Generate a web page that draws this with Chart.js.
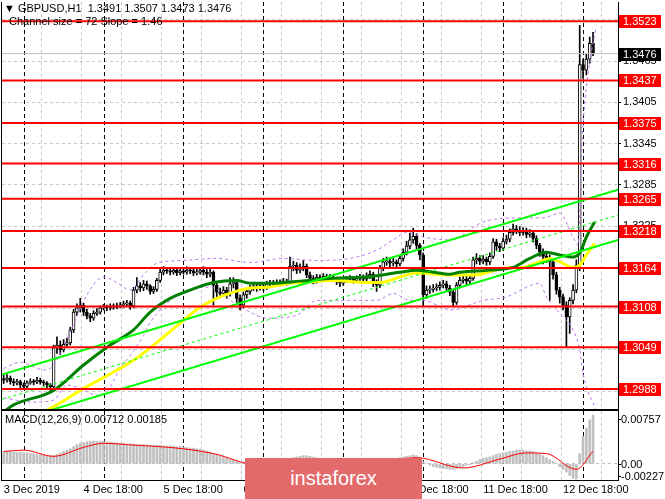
<!DOCTYPE html>
<html>
<head>
<meta charset="utf-8">
<title>GBPUSD H1</title>
<script src="https://cdn.jsdelivr.net/npm/chart.js@4.4.1/dist/chart.umd.min.js"></script>
<style>
  body { margin: 0; background: #fff; }
  #wrap { position: relative; width: 665px; height: 499px; overflow: hidden; font-family: "Liberation Sans", Arial, sans-serif; }
  canvas { position: absolute; left: 0; }
  #priceChart { top: 0; }
  #macdChart { top: 409px; }
  .note { position: absolute; font-size: 11px; line-height: 13px; color: #000; white-space: pre; }
  #brand { position: absolute; left: 245px; top: 458px; width: 177px; height: 41px; background: #e26a6a; color: #fff; font-size: 20px; line-height: 41px; text-align: center; }
</style>
</head>
<body>
<div id="wrap">
  <canvas id="priceChart" width="665" height="411"></canvas>
  <canvas id="macdChart" width="665" height="90"></canvas>
  <div class="note" style="left:4px;top:2px">▼ GBPUSD,H1  1.3491 1.3507 1.3473 1.3476</div>
  <div class="note" style="left:9px;top:15px">Channel size = 72 Slope = 1.46</div>
  <div class="note" style="left:5px;top:413px">MACD(12,26,9) 0.00712 0.00185</div>
  <div id="brand">instaforex</div>
</div>
<script>
// hourly candles, 3 Dec 18:00 -> 13 Dec 03:00 (index = bar number)
const opens = [
  1.3003,1.3001,1.3004,1.2999,1.2997,1.2999,1.2994,1.2992,1.2997,1.2999,
  1.2998,1.3001,1.2998,1.2997,1.2994,1.2991,1.3048,1.3052,1.3045,1.3053,
  1.3055,1.3074,1.3100,1.3106,1.3110,1.3100,1.3094,1.3091,1.3098,1.3100,
  1.3106,1.3107,1.3106,1.3109,1.3107,1.3109,1.3110,1.3112,1.3113,1.3109,
  1.3132,1.3138,1.3135,1.3141,1.3138,1.3130,1.3133,1.3146,1.3158,1.3161,
  1.3160,1.3158,1.3161,1.3157,1.3160,1.3158,1.3161,1.3160,1.3157,1.3158,
  1.3161,1.3158,1.3155,1.3158,1.3139,1.3129,1.3127,1.3132,1.3126,1.3141,
  1.3143,1.3120,1.3110,1.3125,1.3130,1.3135,1.3138,1.3135,1.3138,1.3136,
  1.3141,1.3142,1.3141,1.3143,1.3142,1.3145,1.3143,1.3167,1.3168,1.3161,
  1.3164,1.3167,1.3154,1.3149,1.3146,1.3151,1.3148,1.3152,1.3149,1.3151,
  1.3148,1.3145,1.3142,1.3146,1.3148,1.3149,1.3146,1.3149,1.3151,1.3148,
  1.3152,1.3155,1.3143,1.3139,1.3164,1.3173,1.3174,1.3171,1.3173,1.3170,
  1.3178,1.3187,1.3196,1.3205,1.3210,1.3197,1.3183,1.3125,1.3132,1.3133,
  1.3135,1.3136,1.3139,1.3141,1.3135,1.3129,1.3114,1.3139,1.3146,1.3148,
  1.3145,1.3149,1.3176,1.3178,1.3174,1.3177,1.3173,1.3181,1.3202,1.3196,
  1.3193,1.3203,1.3206,1.3216,1.3221,1.3219,1.3216,1.3218,1.3213,1.3215,
  1.3207,1.3197,1.3187,1.3181,1.3178,1.3173,1.3154,1.3132,1.3122,1.3110,
  1.3093,1.3117,1.3132,1.3168,1.3460,1.3452,1.3468,1.3491
];
const highs = [
  1.3008,1.3009,1.3007,1.3003,1.3002,1.3001,1.2997,1.3000,1.3003,1.3002,
  1.3005,1.3004,1.3001,1.2999,1.2996,1.3052,1.3064,1.3058,1.3060,1.3062,
  1.3078,1.3104,1.3112,1.3120,1.3113,1.3104,1.3098,1.3102,1.3105,1.3109,
  1.3111,1.3110,1.3112,1.3112,1.3113,1.3114,1.3116,1.3117,1.3116,1.3136,
  1.3150,1.3143,1.3146,1.3145,1.3140,1.3137,1.3149,1.3162,1.3166,1.3165,
  1.3163,1.3165,1.3164,1.3163,1.3164,1.3166,1.3164,1.3163,1.3162,1.3165,
  1.3166,1.3162,1.3163,1.3160,1.3142,1.3135,1.3137,1.3136,1.3150,1.3150,
  1.3146,1.3125,1.3129,1.3134,1.3139,1.3142,1.3141,1.3142,1.3141,1.3145,
  1.3146,1.3146,1.3147,1.3147,1.3149,1.3148,1.3180,1.3174,1.3172,1.3170,
  1.3175,1.3170,1.3158,1.3153,1.3155,1.3154,1.3156,1.3155,1.3155,1.3154,
  1.3151,1.3149,1.3150,1.3152,1.3153,1.3152,1.3153,1.3155,1.3154,1.3157,
  1.3160,1.3158,1.3147,1.3168,1.3178,1.3180,1.3178,1.3178,1.3176,1.3183,
  1.3192,1.3203,1.3215,1.3222,1.3214,1.3200,1.3186,1.3138,1.3138,1.3140,
  1.3141,1.3144,1.3146,1.3145,1.3139,1.3132,1.3143,1.3151,1.3153,1.3152,
  1.3154,1.3180,1.3185,1.3182,1.3182,1.3180,1.3186,1.3207,1.3206,1.3200,
  1.3208,1.3212,1.3221,1.3228,1.3226,1.3224,1.3223,1.3222,1.3220,1.3219,
  1.3211,1.3200,1.3192,1.3186,1.3183,1.3177,1.3158,1.3136,1.3126,1.3115,
  1.3121,1.3140,1.3176,1.3517,1.3468,1.3475,1.3500,1.3507
];
const lows = [
  1.2996,1.2998,1.2995,1.2993,1.2994,1.2990,1.2988,1.2990,1.2995,1.2994,
  1.2996,1.2995,1.2993,1.2990,1.2986,1.2989,1.3040,1.3038,1.3042,1.3048,
  1.3052,1.3070,1.3095,1.3100,1.3095,1.3090,1.3086,1.3088,1.3095,1.3097,
  1.3103,1.3102,1.3103,1.3104,1.3105,1.3106,1.3107,1.3109,1.3104,1.3106,
  1.3128,1.3130,1.3131,1.3133,1.3126,1.3127,1.3130,1.3143,1.3154,1.3156,
  1.3154,1.3155,1.3153,1.3154,1.3155,1.3155,1.3156,1.3153,1.3154,1.3155,
  1.3154,1.3150,1.3151,1.3110,1.3122,1.3121,1.3123,1.3120,1.3123,1.3135,
  1.3114,1.3103,1.3106,1.3120,1.3126,1.3131,1.3130,1.3132,1.3131,1.3133,
  1.3137,1.3137,1.3138,1.3138,1.3139,1.3139,1.3141,1.3160,1.3156,1.3157,
  1.3160,1.3150,1.3144,1.3141,1.3142,1.3144,1.3144,1.3145,1.3146,1.3144,
  1.3140,1.3137,1.3139,1.3143,1.3144,1.3142,1.3143,1.3146,1.3144,1.3145,
  1.3149,1.3137,1.3130,1.3136,1.3160,1.3168,1.3166,1.3167,1.3165,1.3167,
  1.3174,1.3183,1.3192,1.3200,1.3192,1.3176,1.3108,1.3120,1.3127,1.3129,
  1.3131,1.3132,1.3135,1.3130,1.3124,1.3108,1.3111,1.3135,1.3142,1.3140,
  1.3141,1.3146,1.3170,1.3169,1.3170,1.3168,1.3169,1.3178,1.3190,1.3188,
  1.3190,1.3199,1.3202,1.3212,1.3214,1.3211,1.3212,1.3208,1.3209,1.3202,
  1.3192,1.3181,1.3170,1.3172,1.3117,1.3148,1.3126,1.3113,1.3103,1.3049,
  1.3069,1.3112,1.3128,1.3160,1.3440,1.3445,1.3462,1.3473
];
const closes = [
  1.3001,1.3004,1.2999,1.2997,1.2999,1.2994,1.2992,1.2997,1.2999,1.2998,
  1.3001,1.2998,1.2997,1.2994,1.2991,1.3048,1.3052,1.3045,1.3053,1.3055,
  1.3074,1.3100,1.3106,1.3110,1.3100,1.3094,1.3091,1.3098,1.3100,1.3106,
  1.3107,1.3106,1.3109,1.3107,1.3109,1.3110,1.3112,1.3113,1.3109,1.3132,
  1.3138,1.3135,1.3141,1.3138,1.3130,1.3133,1.3146,1.3158,1.3161,1.3160,
  1.3158,1.3161,1.3157,1.3160,1.3158,1.3161,1.3160,1.3157,1.3158,1.3161,
  1.3158,1.3155,1.3158,1.3139,1.3129,1.3127,1.3132,1.3126,1.3141,1.3143,
  1.3120,1.3110,1.3125,1.3130,1.3135,1.3138,1.3135,1.3138,1.3136,1.3141,
  1.3142,1.3141,1.3143,1.3142,1.3145,1.3143,1.3167,1.3168,1.3161,1.3164,
  1.3167,1.3154,1.3149,1.3146,1.3151,1.3148,1.3152,1.3149,1.3151,1.3148,
  1.3145,1.3142,1.3146,1.3148,1.3149,1.3146,1.3149,1.3151,1.3148,1.3152,
  1.3155,1.3143,1.3139,1.3164,1.3173,1.3174,1.3171,1.3173,1.3170,1.3178,
  1.3187,1.3196,1.3205,1.3210,1.3197,1.3183,1.3125,1.3132,1.3133,1.3135,
  1.3136,1.3139,1.3141,1.3135,1.3129,1.3114,1.3139,1.3146,1.3148,1.3145,
  1.3149,1.3176,1.3178,1.3174,1.3177,1.3173,1.3181,1.3202,1.3196,1.3193,
  1.3203,1.3206,1.3216,1.3221,1.3219,1.3216,1.3218,1.3213,1.3215,1.3207,
  1.3197,1.3187,1.3181,1.3178,1.3173,1.3154,1.3132,1.3122,1.3110,1.3093,
  1.3117,1.3132,1.3168,1.3460,1.3452,1.3468,1.3491,1.3476
];

// indicators as [bar, value]
const maGreen = [[0,1.2955],[3,1.2965],[15,1.2986],[24,1.3023],[32,1.3052],[39,1.3074],[44,1.3100],[50,1.3120],
  [56,1.3132],[63,1.3143],[70,1.3146],[74,1.3142],[80,1.3142],[89,1.3145],[99,1.3149],[109,1.3151],[119,1.3158],
  [124,1.3161],[129,1.3158],[134,1.3155],[137,1.3158],[146,1.3161],[153,1.3165],[158,1.3178],[163,1.3187],
  [167,1.3183],[171,1.3180],[173,1.3186],[175,1.3209],[177.5,1.3231]];
const maYellow = [[10,1.2950],[16,1.2965],[24,1.2989],[32,1.3010],[39,1.3030],[44,1.3048],[54,1.3088],[59,1.3107],
  [64,1.3120],[69,1.3129],[74,1.3135],[79,1.3136],[86,1.3142],[89,1.3143],[99,1.3146],[109,1.3143],[113,1.3143],
  [119,1.3151],[124,1.3157],[134,1.3154],[141,1.3154],[151,1.3164],[156,1.3165],[161,1.3173],[164,1.3178],
  [167,1.3173],[171,1.3165],[173,1.3168],[175.5,1.3187],[177.5,1.3200]];
const bandUpper = [[0,1.3018],[5,1.3027],[12,1.3016],[15,1.3023],[20,1.3071],[25,1.3125],[30,1.3151],[34,1.3143],
  [38,1.3132],[42,1.3154],[46,1.3171],[54,1.3175],[64,1.3178],[74,1.3172],[84,1.3178],[94,1.3175],[104,1.3178],
  [112,1.3190],[117,1.3205],[121,1.3216],[126,1.3209],[134,1.3205],[144,1.3231],[154,1.3237],[162,1.3237],
  [167,1.3244],[171,1.3209],[172.5,1.3197],[173.7,1.3350],[174.6,1.3408],[176.1,1.3466],[177.9,1.3513]];
const bandLower = [[0,1.2975],[9,1.2969],[15,1.2972],[19,1.2994],[23,1.2989],[28,1.2979],[31,1.2984],[35,1.3018],
  [38,1.3037],[42,1.3066],[44,1.3085],[54,1.3129],[62,1.3136],[69,1.3114],[74,1.3100],[79,1.3091],[86,1.3093],
  [89,1.3098],[94,1.3117],[104,1.3117],[112,1.3117],[117,1.3127],[122,1.3117],[126,1.3117],[132,1.3106],
  [134,1.3103],[144,1.3117],[151,1.3122],[157,1.3136],[161,1.3142],[163,1.3122],[167,1.3098],[171,1.3074],
  [173,1.3045],[174,1.3011],[175.5,1.2984],[177,1.2968],[178,1.2955]];
const channelUpper = [[-0.5,1.3009],[184.5,1.3278]];
const channelMiddle = [[-0.5,1.2973],[184.5,1.3241]];
const channelLower = [[-0.5,1.2936],[184.5,1.3205]];

const levels = [1.3523,1.3437,1.3375,1.3316,1.3265,1.3218,1.3164,1.3108,1.3049,1.2988];
const bidPrice = 1.3476;
const priceTicks = [1.2985,1.3045,1.3105,1.3165,1.3225,1.3285,1.3345,1.3405,1.3465,1.3525];

const macdMain = [
  0.0018,0.0018,0.0018,0.0017,0.0017,0.0017,0.0016,0.0016,0.0015,0.0015,
  0.0014,0.0013,0.0013,0.0012,0.0012,0.0012,0.0014,0.0016,0.0018,0.0020,
  0.0022,0.0025,0.0028,0.0030,0.0031,0.0032,0.0033,0.0033,0.0033,0.0033,
  0.0033,0.0032,0.0032,0.0031,0.0031,0.0030,0.0030,0.0029,0.0029,0.0029,
  0.0028,0.0028,0.0028,0.0028,0.0027,0.0027,0.0027,0.0027,0.0026,0.0026,
  0.0026,0.0026,0.0025,0.0025,0.0024,0.0024,0.0023,0.0023,0.0022,0.0021,
  0.0020,0.0019,0.0017,0.0015,0.0013,0.0011,0.0010,0.0009,0.0007,0.0006,
  0.0004,0.0002,0.0001,0.0000,-0.0001,-0.0001,-0.0002,-0.0001,-0.0001,0.0000,
  0.0001,0.0002,0.0003,0.0004,0.0005,0.0006,0.0008,0.0009,0.0010,0.0011,
  0.0012,0.0012,0.0011,0.0010,0.0009,0.0008,0.0007,0.0006,0.0005,0.0004,
  0.0003,0.0002,0.0001,0.0001,0.0000,-0.0001,-0.0001,-0.0001,0.0000,0.0001,
  0.0002,0.0002,0.0002,0.0004,0.0005,0.0006,0.0007,0.0007,0.0008,0.0009,
  0.0010,0.0011,0.0012,0.0013,0.0012,0.0010,0.0003,0.0000,-0.0002,-0.0004,
  -0.0005,-0.0006,-0.0007,-0.0007,-0.0008,-0.0008,-0.0007,-0.0005,-0.0004,-0.0002,
  -0.0001,0.0002,0.0004,0.0006,0.0008,0.0009,0.0010,0.0012,0.0014,0.0015,
  0.0016,0.0017,0.0018,0.0019,0.0020,0.0020,0.0020,0.0019,0.0019,0.0018,
  0.0016,0.0014,0.0012,0.0009,0.0006,0.0003,0.0000,-0.0004,-0.0008,-0.0012,
  -0.0017,-0.0021,-0.0022,0.0015,0.0040,0.0052,0.0064,0.00712
];
const macdSignal = [[0,0.0018],[6,0.0020],[15,0.0011],[24,0.0024],[30,0.0030],[37,0.0028],[54,0.0022],[63,0.0015],
  [76,-0.0001],[81,-0.0001],[90,0.0006],[107,0.0001],[124,0.0009],[138,-0.0006],[149,0.0007],[157,0.0016],
  [163,0.0015],[172,-0.0008],[177,0.00185]];
const macdTicks = [0.00757, 0, -0.00227];

const daySeparators = [6, 30, 54, 78, 102, 126, 150, 174];
const gridTicksX = [11.5,23.5,35.5,47.5,59.5,71.5,83.5,95.5,107.5,119.5,131.5,143.5,155.5,167.5,179.5];
const timeTicks = [0, 24, 48, 72, 96, 120, 144, 168];
const timeLabels = ['3 Dec 2019','4 Dec 18:00','5 Dec 18:00','6 Dec 18:00','9 Dec 18:00','10 Dec 18:00','11 Dec 18:00','12 Dec 18:00'];

const X_MIN = -0.5, X_MAX = 184.5;
const PRICE_MIN = 1.2959, PRICE_MAX = 1.3551;
const MACD_MIN = -0.00235, MACD_MAX = 0.0077;
const FONT = '"Liberation Sans", Arial, sans-serif';

Chart.defaults.font.family = FONT;
Chart.defaults.font.size = 11;
Chart.defaults.color = '#000';

function pts(arr) {
  return arr.map(([x, y]) => ({x: x, y: y}));
}

function lineSet(arr, color, width, dash, order, smooth) {
  return {
    type: 'line', data: pts(arr), borderColor: color, borderWidth: width,
    borderDash: dash || [], pointRadius: 0, fill: false, order: order,
    cubicInterpolationMode: smooth ? 'monotone' : 'default'
  };
}

function xGridAxis() {
  return {
    type: 'linear', min: X_MIN, max: X_MAX, offset: false,
    afterBuildTicks: s => { s.ticks = gridTicksX.map(v => ({value: v})); },
    afterFit: s => { s.height = 0; s.paddingLeft = 0; s.paddingRight = 0; },
    ticks: {display: false},
    grid: {color: '#c8c8c8', drawTicks: false, offset: false},
    border: {display: false, dash: [3, 3]}
  };
}

function drawSeparators(chart) {
  const {ctx, chartArea: a, scales: {x}} = chart;
  ctx.save();
  ctx.strokeStyle = '#000';
  ctx.lineWidth = 1;
  ctx.setLineDash([4, 3]);
  daySeparators.forEach(i => {
    const px = Math.round(x.getPixelForValue(i)) + 0.5;
    ctx.beginPath();
    ctx.moveTo(px, a.top);
    ctx.lineTo(px, a.bottom);
    ctx.stroke();
  });
  ctx.restore();
}

function tag(ctx, x, py, text, bg) {
  py = Math.round(py);
  ctx.fillStyle = bg;
  ctx.fillRect(x + 1, py - 6, 42, 13);
  ctx.fillStyle = '#fff';
  ctx.fillText(text, x + 5, py + 1);
}

const priceOverlay = {
  id: 'priceOverlay',
  beforeDatasetsDraw(chart) {
    drawSeparators(chart);
  },
  afterDraw(chart) {
    const {ctx, chartArea: a, scales: {y}} = chart;
    ctx.save();
    // frame: left and bottom edges (right edge is the axis line)
    ctx.fillStyle = '#000';
    ctx.fillRect(a.left - 1, a.top, 1, a.height + 1);
    ctx.fillRect(a.left - 1, a.bottom, a.width + 1, 1);
    ctx.font = '11px ' + FONT;
    ctx.textBaseline = 'middle';
    levels.forEach(lv => tag(ctx, a.right, y.getPixelForValue(lv), lv.toFixed(4), '#ff0000'));
    tag(ctx, a.right, y.getPixelForValue(bidPrice), bidPrice.toFixed(4), '#000000');
    ctx.restore();
  }
};

const macdOverlay = {
  id: 'macdOverlay',
  beforeDatasetsDraw(chart) {
    drawSeparators(chart);
  },
  afterDraw(chart) {
    const {ctx, chartArea: a, scales: {y}} = chart;
    ctx.save();
    ctx.strokeStyle = '#000';
    ctx.lineWidth = 1;
    ctx.strokeRect(a.left - 0.5, a.top - 0.5, a.width + 1, a.height + 1);
    ctx.font = '11px ' + FONT;
    ctx.fillStyle = '#000';
    ctx.textBaseline = 'middle';
    macdTicks.forEach(v => {
      let py = y.getPixelForValue(v);
      py = Math.min(Math.max(py, a.top + 8), a.bottom - 4);
      ctx.fillRect(a.right, Math.round(py), 3, 1);
      ctx.fillText(v === 0 ? '0.00' : v.toFixed(5), a.right + 3, py + 1, 43);
    });
    ctx.restore();
  }
};

// candles as floating bars: thin wick + body
const barIdx = closes.map((c, i) => i);
const wicks = barIdx.map(i => ({x: i, y: [lows[i], highs[i]]}));
const bodies = barIdx.map(i => ({x: i, y: [Math.min(opens[i], closes[i]), Math.max(opens[i], closes[i])]}));
const bodyFill = barIdx.map(i => closes[i] >= opens[i] ? '#ffffff' : '#000000');

new Chart(document.getElementById('priceChart'), {
  type: 'bar',
  data: {
    datasets: [
      {type: 'bar', data: wicks, backgroundColor: '#000', barThickness: 1, grouped: false, order: 20},
      {type: 'bar', data: bodies, backgroundColor: bodyFill, borderColor: '#000', borderWidth: 1,
        borderSkipped: false, barThickness: 3, minBarLength: 1, grouped: false, order: 19},
      lineSet(bandUpper, '#bb77ee', 1, [3, 3], 15, true),
      lineSet(bandLower, '#bb77ee', 1, [3, 3], 15, true),
      lineSet(maYellow, '#ffff00', 3, null, 12, true),
      lineSet(maGreen, '#008000', 3, null, 11, true),
      lineSet(channelMiddle, '#00ff00', 1, [3, 3], 8, false),
      lineSet(channelUpper, '#00ff00', 2, null, 7, false),
      lineSet(channelLower, '#00ff00', 2, null, 7, false),
      lineSet([[X_MIN, bidPrice], [X_MAX, bidPrice]], '#c0c0c0', 1, null, 6, false),
      ...levels.map(lv => lineSet([[X_MIN, lv], [X_MAX, lv]], '#ff0000', 2, null, 3, false))
    ]
  },
  options: {
    responsive: false,
    animation: false,
    events: [],
    layout: {padding: {left: 2, top: 2, right: 0, bottom: 2}},
    plugins: {legend: {display: false}, tooltip: {enabled: false}},
    scales: {
      x: xGridAxis(),
      y: {
        position: 'right', min: PRICE_MIN, max: PRICE_MAX,
        afterBuildTicks: s => { s.ticks = priceTicks.map(v => ({value: v})); },
        afterFit: s => { s.width = 47; s.paddingTop = 0; s.paddingBottom = 0; },
        ticks: {color: '#000', padding: 2, callback: v => v.toFixed(4)},
        grid: {color: '#c8c8c8', tickColor: '#000', tickLength: 3},
        border: {display: true, color: '#000', dash: [3, 3]}
      }
    }
  },
  plugins: [priceOverlay]
});

new Chart(document.getElementById('macdChart'), {
  type: 'bar',
  data: {
    datasets: [
      lineSet(macdSignal, '#ff0000', 1, null, 1, true),
      {type: 'bar', data: macdMain.map((v, i) => ({x: i, y: v})), backgroundColor: '#c0c0c0',
        barThickness: 2, grouped: false, order: 2}
    ]
  },
  options: {
    responsive: false,
    animation: false,
    events: [],
    layout: {padding: {left: 2, top: 2, right: 0, bottom: 0}},
    plugins: {legend: {display: false}, tooltip: {enabled: false}},
    scales: {
      x: xGridAxis(),
      time: {
        type: 'linear', position: 'bottom', min: X_MIN, max: X_MAX, offset: false,
        afterBuildTicks: s => { s.ticks = timeTicks.map(v => ({value: v})); },
        afterFit: s => { s.height = 19; s.paddingLeft = 0; s.paddingRight = 0; },
        ticks: {align: 'start', autoSkip: false, maxRotation: 0, padding: 3, color: '#000',
          callback: v => timeLabels[timeTicks.indexOf(v)]},
        grid: {display: false, drawTicks: false},
        border: {display: false}
      },
      y: {
        position: 'right', min: MACD_MIN, max: MACD_MAX,
        afterBuildTicks: s => { s.ticks = [{value: 0}]; },
        afterFit: s => { s.width = 47; s.paddingTop = 0; s.paddingBottom = 0; },
        ticks: {display: false},
        grid: {color: '#c0c0c0', drawTicks: false},
        border: {display: true, color: '#000', dash: [3, 3]}
      }
    }
  },
  plugins: [macdOverlay]
});
</script>
</body>
</html>
